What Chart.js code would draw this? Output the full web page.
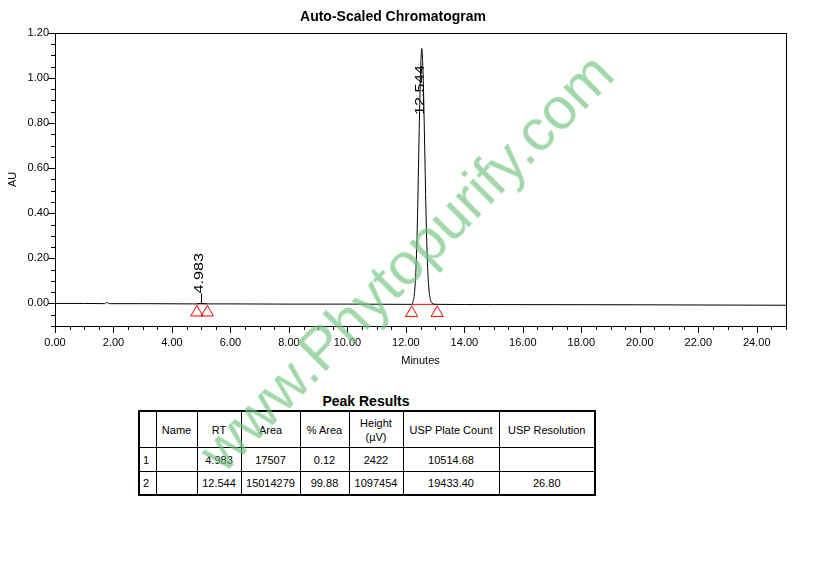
<!DOCTYPE html>
<html>
<head>
<meta charset="utf-8">
<script src="https://cdn.jsdelivr.net/npm/chart.js@4.4.1/dist/chart.umd.min.js"></script>
<style>
body{margin:0;background:#fff;width:833px;height:583px;position:relative;overflow:hidden;font-family:"Liberation Sans",Arial,sans-serif;color:#000;}
#wrap{position:absolute;left:0;top:0;width:833px;height:372px;}
#peakTitle{position:absolute;left:138px;width:456px;top:393px;text-align:center;font-weight:bold;font-size:14px;}
table{position:absolute;left:138px;top:410px;width:456px;border-collapse:collapse;border:2px solid #000;font-size:11px;table-layout:fixed;}
td{border:1px solid #000;text-align:center;padding:0;line-height:14px;}
td.idx{text-align:left;padding-left:3px;}
tr.h td{height:35px;}
tr.r1 td{height:23px;}
tr.r2 td{height:22px;}
#watermark{position:absolute;left:56px;top:232px;width:700px;height:60px;line-height:60px;text-align:center;font-size:59px;color:rgba(110,195,125,0.65);transform:rotate(-45.3deg);transform-origin:50% 50%;white-space:nowrap;pointer-events:none;}
</style>
</head>
<body>
<div id="wrap"><canvas id="myChart" width="833" height="372"></canvas></div>

<div id="peakTitle">Peak Results</div>
<table>
<colgroup>
<col style="width:17px"><col style="width:41px"><col style="width:44px"><col style="width:59px">
<col style="width:49px"><col style="width:54px"><col style="width:96px"><col style="width:96px">
</colgroup>
<tr class="h"><td></td><td>Name</td><td>RT</td><td>Area</td><td>% Area</td><td>Height<br>(µV)</td><td>USP Plate Count</td><td>USP Resolution</td></tr>
<tr class="r1"><td class="idx">1</td><td></td><td>4.983</td><td>17507</td><td>0.12</td><td>2422</td><td>10514.68</td><td></td></tr>
<tr class="r2"><td class="idx">2</td><td></td><td>12.544</td><td>15014279</td><td>99.88</td><td>1097454</td><td>19433.40</td><td>26.80</td></tr>
</table>

<div id="watermark">www.Phytopurify.com</div>

<script>
// trace (minutes, AU)
const TIME_data = [0, 1.0, 1.70, 1.78, 1.82, 1.90, 3.0, 4.70, 4.85, 4.983, 5.21, 6.0, 8.0, 10.0, 12.0, 12.20,
  12.244, 12.294, 12.344, 12.394, 12.444, 12.494, 12.544, 12.594, 12.644, 12.694, 12.744, 12.794, 12.844, 12.894,
  12.95, 13.07, 15.0, 20.0, 25.0];
const AU_data = [0.000, 0.000, -0.001, 0.006, 0.000, -0.001, -0.001, -0.002, -0.002, 0.000, -0.002, -0.002, -0.003, -0.003, -0.004, -0.004,
  0.008, 0.045, 0.15, 0.36, 0.69, 0.99, 1.13, 0.99, 0.69, 0.37, 0.16, 0.055, 0.015, 0.002,
  -0.003, -0.004, -0.005, -0.006, -0.008];

// integration marks
const peak1_base = [[4.85, -0.002], [5.21, -0.002]];
const peak2_base = [[12.20, -0.004], [13.07, -0.004]];
const MARK_times = [4.85, 5.21, 12.20, 13.07];
const MARK_au = [-0.040, -0.040, -0.042, -0.042];

// peak labels
const PEAK_rt = ['4.983', '12.544'];
const PEAK_label_au = [0.044, 0.836];
const PEAK_tick = [true, false];

const X_ticks = [0, 2, 4, 6, 8, 10, 12, 14, 16, 18, 20, 22, 24];
const Y_ticks = [0, 0.2, 0.4, 0.6, 0.8, 1.0, 1.2];

const FONT = '"Liberation Sans", Arial, sans-serif';

const framePlugin = {
  id: 'frame',
  afterDraw(chart) {
    const c = chart.ctx, a = chart.chartArea;
    const xs = chart.scales.x, ys = chart.scales.y;
    c.save();
    c.strokeStyle = '#000';
    c.lineWidth = 1;
    c.strokeRect(Math.round(a.left) + 0.5, Math.round(a.top) + 0.5, Math.round(a.right - a.left), Math.round(a.bottom - a.top));
    c.beginPath();
    for (let i = 0; i <= 50; i++) {
      const v = i * 0.5;
      const px = Math.round(xs.getPixelForValue(v)) + 0.5;
      const len = (i % 4 === 0) ? 7 : 4;
      c.moveTo(px, a.bottom);
      c.lineTo(px, a.bottom + len);
    }
    for (let i = -2; i <= 24; i++) {
      const v = i * 0.05;
      const py = Math.round(ys.getPixelForValue(v)) + 0.5;
      const len = (i % 4 === 0) ? 7 : 4;
      c.moveTo(a.left, py);
      c.lineTo(a.left - len, py);
    }
    c.stroke();

    // peak labels
    c.fillStyle = '#000';
    c.font = '12px ' + FONT;
    c.textAlign = 'left';
    c.textBaseline = 'middle';
    PEAK_rt.forEach((t, i) => {
      const px = xs.getPixelForValue(parseFloat(t));
      const py = ys.getPixelForValue(PEAK_label_au[i]);
      if (PEAK_tick[i]) {
        c.beginPath();
        c.moveTo(Math.round(px) + 0.5, py);
        c.lineTo(Math.round(px) + 0.5, ys.getPixelForValue(0));
        c.stroke();
      }
      c.save();
      c.translate(px - 1, py);
      c.rotate(-Math.PI / 2);
      c.scale(1.35, 1);
      c.fillText(t, 0, 0);
      c.restore();
    });
    c.restore();
  }
};

const ctx = document.getElementById('myChart');

window.myChart = new Chart(ctx, {
  type: 'line',
  data: {
    datasets: [{
      label: 'trace',
      data: TIME_data.map((t, i) => ({x: t, y: AU_data[i]})),
      borderColor: '#000',
      borderWidth: 1,
      pointRadius: 0,
      cubicInterpolationMode: 'monotone'
    }, {
      label: 'base1',
      data: peak1_base.map(p => ({x: p[0], y: p[1]})),
      borderColor: '#FF0000',
      borderWidth: 1,
      pointRadius: 0
    }, {
      label: 'base2',
      data: peak2_base.map(p => ({x: p[0], y: p[1]})),
      borderColor: '#FF0000',
      borderWidth: 1,
      pointRadius: 0
    }, {
      label: 'marks',
      data: MARK_times.map((t, i) => ({x: t, y: MARK_au[i]})),
      showLine: false,
      pointStyle: 'triangle',
      pointRadius: 7,
      pointBorderColor: '#FF0000',
      pointBackgroundColor: 'rgba(0,0,0,0)',
      pointBorderWidth: 1
    }]
  },
  options: {
    responsive: false,
    animation: false,
    layout: {padding: {left: 0, right: 47, top: 0, bottom: 0}},
    plugins: {
      legend: {display: false},
      tooltip: {enabled: false},
      title: {
        display: true,
        text: 'Auto-Scaled Chromatogram',
        color: '#000',
        font: {family: FONT, size: 14, weight: 'bold'},
        padding: {top: 9, bottom: 7}
      }
    },
    scales: {
      x: {
        type: 'linear',
        min: 0,
        max: 25,
        grid: {display: false, drawTicks: false},
        border: {display: false},
        afterBuildTicks: s => { s.ticks = X_ticks.map(v => ({value: v})); },
        afterFit: s => { s.height = 46; },
        ticks: {
          color: '#000',
          font: {family: FONT, size: 11},
          padding: 10,
          maxRotation: 0,
          autoSkip: false,
          callback: v => Number(v).toFixed(2)
        },
        title: {
          display: true,
          text: 'Minutes',
          color: '#000',
          font: {family: FONT, size: 11},
          padding: {top: 0, bottom: 4}
        }
      },
      y: {
        min: -0.1,
        max: 1.2,
        grid: {display: false, drawTicks: false},
        border: {display: false},
        afterBuildTicks: s => { s.ticks = Y_ticks.map(v => ({value: v})); },
        afterFit: s => { s.width = 55; },
        ticks: {
          color: '#000',
          font: {family: FONT, size: 11},
          padding: 6,
          autoSkip: false,
          callback: v => Number(v).toFixed(2)
        },
        title: {
          display: true,
          text: 'AU',
          color: '#000',
          font: {family: FONT, size: 11},
          padding: {top: 6, bottom: 0}
        }
      }
    }
  },
  plugins: [framePlugin]
});
</script>
</body>
</html>
